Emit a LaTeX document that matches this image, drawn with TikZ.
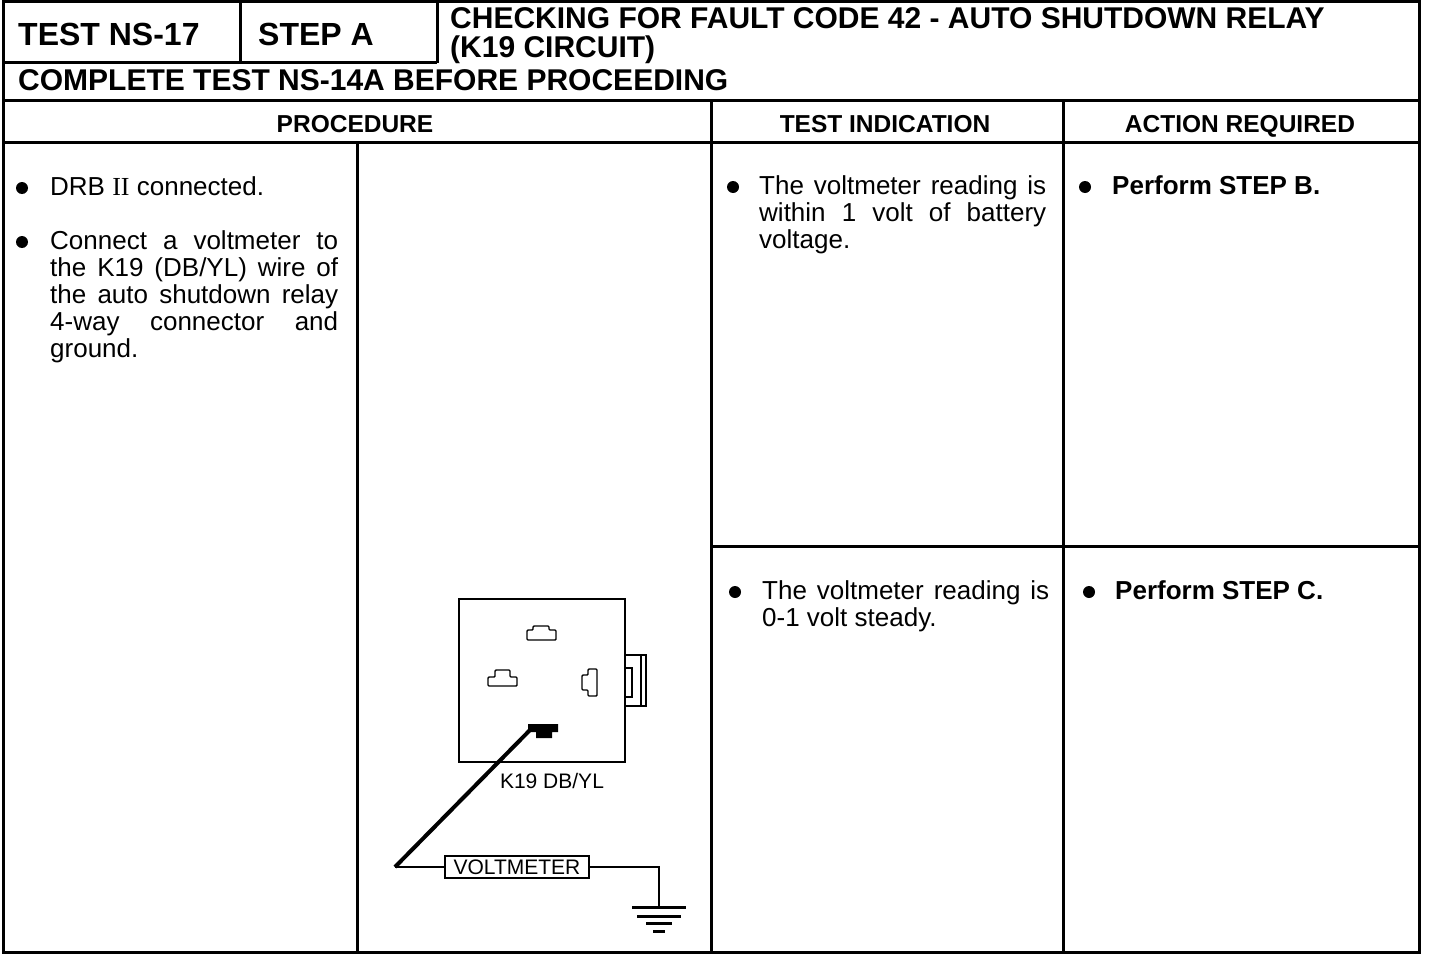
\documentclass[tikz,border=0pt]{standalone}
\usepackage{fontspec}
\setmainfont{Liberation Sans}
\newfontfamily\romfont{Liberation Serif}
\usetikzlibrary{positioning}

\tikzset{
  frame/.style={line width=3pt},
  hdrtext/.style={anchor=base west, inner sep=0pt, font=\bfseries\fontsize{30}{29}\selectfont},
  colhead/.style={anchor=base, inner sep=0pt, font=\bfseries\fontsize{24.5}{27}\selectfont},
  para/.style={anchor=base west, inner sep=0pt, align=justify, text width=#1, font=\fontsize{26}{27}\selectfont},
  boldpara/.style={para=#1, font=\bfseries\fontsize{26}{27}\selectfont},
  dot/.style={circle, fill, inner sep=0pt, minimum size=12pt},
  pin/.style={line width=1.4pt, rounded corners=1pt},
  small/.style={inner sep=0pt, font=\fontsize{21}{21}\selectfont},
}

\begin{document}
\begin{tikzpicture}[x=1pt,y=-1pt]
\useasboundingbox (0,0) rectangle (1440,958);
% table
\draw[frame] (3,2) rectangle (1419,952);
\draw[frame] (240,2) -- (240,63) (437,2) -- (437,63) (3,63) -- (437,63);
\draw[frame] (3,100) -- (1419,100) (3,142) -- (1419,142);
\draw[frame] (711,100) -- (711,952) (1063,100) -- (1063,952) (357,142) -- (357,952);
\draw[frame] (711,546) -- (1419,546);

\node[hdrtext, font=\bfseries\fontsize{32}{32}\selectfont] (test) at (18,46) {TEST NS-17};
\node[hdrtext, font=\bfseries\fontsize{32}{32}\selectfont] (step) at (258,46) {STEP A};
\node[hdrtext] (title) at (450,29) {CHECKING FOR FAULT CODE 42 - AUTO SHUTDOWN RELAY};
\node[hdrtext] (title2) at (450,58) {(K19 CIRCUIT)};
\node[hdrtext] (first) at (18,91) {COMPLETE TEST NS-14A BEFORE PROCEEDING};
\node[colhead] (proc) at (355,132) {PROCEDURE};
\node[colhead] (ind) at (885,132) {TEST INDICATION};
\node[colhead] (act) at (1240,132) {ACTION REQUIRED};

% procedure
\node[dot] (b1) at (22,188) {};
\node[para=288pt] (p1) at (50,195) {DRB \mbox{\romfont II} connected.};
\node[dot] (b2) at (22,242) {};
\node[para=288pt] (p2) at (50,249) {Connect a voltmeter to\linebreak the K19 (DB/YL) wire of\linebreak the auto shutdown relay\linebreak 4-way connector and\linebreak ground.};

% indication / action
\node[dot] (b3) at (733,187) {};
\node[para=287pt] (p3) at (759,194) {The voltmeter reading is\linebreak within 1 volt of battery\linebreak voltage.};
\node[dot] (b4) at (1085,187) {};
\node[boldpara=290pt] (p4) at (1112,194) {Perform STEP B.};
\node[dot] (b5) at (735,592) {};
\node[para=287pt] (p5) at (762,599) {The voltmeter reading is\linebreak 0-1 volt steady.};
\node[dot] (b6) at (1089,592) {};
\node[boldpara=290pt] (p6) at (1115,599) {Perform STEP C.};

% relay connector
\draw[line width=2.5pt] (459,599) rectangle (625,762);
\draw[line width=2.5pt] (625,655) rectangle (646,706);
\draw[line width=1.2pt] (641,655) -- (641,706);
\draw[line width=1.4pt] (625,668) rectangle (632,697);
\draw[pin] (527,640) -- (556,640) -- (556,630) -- (549,630) -- (549,626) -- (533,626) -- (533,630) -- (527,630) -- cycle;
\draw[pin] (488,686) -- (517,686) -- (517,677) -- (510,677) -- (510,670) -- (495,670) -- (495,677) -- (488,677) -- cycle;
\draw[pin] (588,669) -- (597,669) -- (597,696) -- (588,696) -- (588,690) -- (582,690) -- (582,675) -- (588,675) -- cycle;
\fill (528,724) -- (558,724) -- (558,732) -- (552,732) -- (552,738) -- (536,738) -- (536,732) -- (528,732) -- cycle;
\node[small, anchor=base] (k19lbl) at (552,788) {K19 DB/YL};

% voltmeter hookup
\coordinate (k19) at (531,729);
\coordinate (jct) at (395,867);
\node[small, draw, line width=2.5pt, minimum width=144pt, minimum height=22pt] (vm) at (517,867) {VOLTMETER};
\coordinate (gnd) at (659,907);
\draw[line width=4pt] (k19) -- (jct);
\draw[line width=2.5pt] (jct) -- (vm.west) (vm.east) -| (gnd);
\foreach \w/\dy in {27/0, 22/9, 13/16, 6/24}
  \draw[line width=3pt] ([shift={(-\w,\dy)}]gnd) -- ([shift={(\w,\dy)}]gnd);
\end{tikzpicture}
\end{document}
